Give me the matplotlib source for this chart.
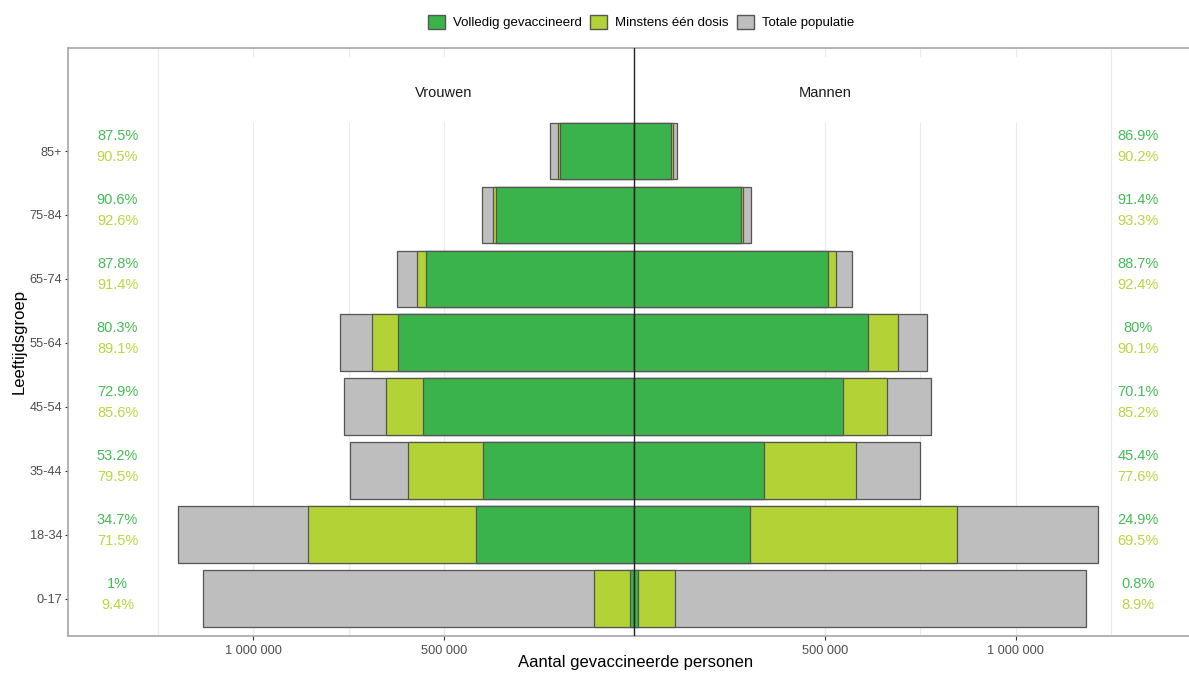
import numpy as np
import matplotlib
matplotlib.use('agg')
import matplotlib.pyplot as plt
from matplotlib.patches import Patch, Rectangle

plt.rcParams['font.family'] = ['Liberation Sans', 'DejaVu Sans']

# age groups, bottom to top
groups = ['0-17', '18-34', '35-44', '45-54', '55-64', '65-74', '75-84', '85+']

# population per group (persons)
women_total = [1132000, 1197000, 747000, 762000, 773000, 623000, 400000, 222000]
men_total = [1185000, 1216000, 749000, 779000, 767000, 572000, 305000, 111000]

# percentages
women_full = [1.0, 34.7, 53.2, 72.9, 80.3, 87.8, 90.6, 87.5]
women_one = [9.4, 71.5, 79.5, 85.6, 89.1, 91.4, 92.6, 90.5]
men_full = [0.8, 24.9, 45.4, 70.1, 80.0, 88.7, 91.4, 86.9]
men_one = [8.9, 69.5, 77.6, 85.2, 90.1, 92.4, 93.3, 90.2]

GREEN = '#3AB44A'
LIME = '#B3D235'
GREY = '#BEBEBE'
EDGE = '#555555'
TXT_GREEN = '#45BB55'
TXT_LIME = '#B8D640'

fig = plt.figure(figsize=(11.89, 6.73), dpi=100)
ax = fig.add_axes([68 / 1189, 37 / 673, 1 - 68 / 1189, (636 - 48) / 673])

y = np.arange(1, len(groups) + 1)
h = 0.89

wt = np.array(women_total)
mt = np.array(men_total)
w1 = wt * np.array(women_one) / 100
wf = wt * np.array(women_full) / 100
m1 = mt * np.array(men_one) / 100
mf = mt * np.array(men_full) / 100

for vals, col in [(wt, GREY), (w1, LIME), (wf, GREEN)]:
    ax.barh(y, -vals, height=h, color=col, edgecolor=EDGE, linewidth=0.9, zorder=3)
for vals, col in [(mt, GREY), (m1, LIME), (mf, GREEN)]:
    ax.barh(y, vals, height=h, color=col, edgecolor=EDGE, linewidth=0.9, zorder=3)

ax.axvline(0, color='#222222', linewidth=1.0, zorder=5)

ax.set_xlim(-1.486e6, 1.455e6)
ax.set_ylim(0.42, 9.61)

# grid lines (major + minor)
for gx in [-1.25e6, -1e6, -0.75e6, -0.5e6, 0.5e6, 0.75e6, 1e6, 1.25e6]:
    ax.axvline(gx, color='#EBEBEB', linewidth=0.8, zorder=0)

# white box behind the sex labels
ax.add_patch(Rectangle((-1.1e6, 8.45), 2.2e6, 1.02, facecolor='white',
                       edgecolor='none', zorder=1))
ax.text(-0.5e6, 8.9, 'Vrouwen', ha='center', va='center', fontsize=10.5,
        color='#1A1A1A', zorder=4)
ax.text(0.5e6, 8.9, 'Mannen', ha='center', va='center', fontsize=10.5,
        color='#1A1A1A', zorder=4)

def fmt(v):
    s = '%.1f' % v
    if s.endswith('.0'):
        s = s[:-2]
    return s + '%'

for i, yy in enumerate(y):
    ax.text(-1.356e6, yy + 0.24, fmt(women_full[i]), ha='center', va='center',
            fontsize=10.5, color=TXT_GREEN)
    ax.text(-1.356e6, yy - 0.09, fmt(women_one[i]), ha='center', va='center',
            fontsize=10.5, color=TXT_LIME)
    ax.text(1.322e6, yy + 0.24, fmt(men_full[i]), ha='center', va='center',
            fontsize=10.5, color=TXT_GREEN)
    ax.text(1.322e6, yy - 0.09, fmt(men_one[i]), ha='center', va='center',
            fontsize=10.5, color=TXT_LIME)

xt = [-1e6, -0.5e6, 0.5e6, 1e6]
ax.set_xticks(xt)
ax.set_xticklabels(['1 000 000', '500 000', '500 000', '1 000 000'])
ax.set_yticks(y)
ax.set_yticklabels(groups)
ax.tick_params(axis='x', labelsize=9.2, labelcolor='#4D4D4D', color='#333333',
               length=3, width=0.8)
ax.tick_params(axis='y', labelsize=9.2, labelcolor='#4D4D4D', color='#333333',
               length=2, width=0.8, pad=2)

ax.spines['right'].set_visible(False)
for side in ['left', 'top', 'bottom']:
    ax.spines[side].set_color('#A6A6A6')
    ax.spines[side].set_linewidth(1.2)

fig.text(636 / 1189, 1 - 663 / 673, 'Aantal gevaccineerde personen', ha='center',
         va='center', fontsize=12, color='black')
fig.text(19 / 1189, 1 - 342 / 673, 'Leeftijdsgroep', ha='center', va='center',
         rotation=90, fontsize=12, color='black')

handles = [Patch(facecolor=GREEN, edgecolor=EDGE, label='Volledig gevaccineerd'),
           Patch(facecolor=LIME, edgecolor=EDGE, label='Minstens één dosis'),
           Patch(facecolor=GREY, edgecolor=EDGE, label='Totale populatie')]
fig.legend(handles=handles, loc='center', bbox_to_anchor=(641 / 1189, 1 - 22 / 673),
           ncol=3, frameon=False, fontsize=9.5, handlelength=1.3, handleheight=1.3,
           handletextpad=0.6, columnspacing=0.6)

fig.savefig('out.png', dpi=100)
